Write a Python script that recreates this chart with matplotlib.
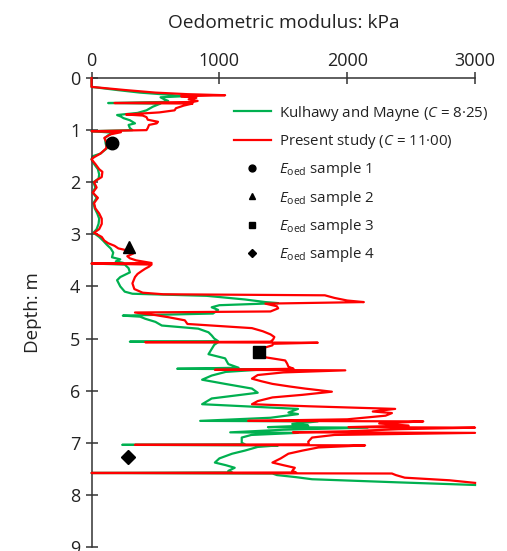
import matplotlib
matplotlib.use('Agg')
import matplotlib.pyplot as plt
from matplotlib.lines import Line2D

plt.rcParams['font.family'] = ['Open Sans', 'DejaVu Sans']
plt.rcParams['mathtext.fontset'] = 'custom'
plt.rcParams['mathtext.rm'] = 'Open Sans'
plt.rcParams['mathtext.it'] = 'Open Sans:italic'

# red curve: present study (C = 11.00)
red_depth = [0.00, 0.17, 0.23, 0.28, 0.31, 0.33, 0.35, 0.38, 0.41, 0.44, 0.46, 0.48, 0.49,
             0.53, 0.58, 0.62, 0.66, 0.70, 0.72, 0.75, 0.80, 0.84, 0.87, 0.90, 0.96, 1.00,
             1.02, 1.04, 1.08, 1.15, 1.25, 1.35, 1.45, 1.52, 1.56, 1.65, 1.75, 1.80, 1.90,
             1.96, 2.00, 2.10, 2.20, 2.30, 2.40, 2.50, 2.60, 2.70, 2.80, 2.90, 2.97, 3.05,
             3.12, 3.17, 3.22, 3.27, 3.32, 3.37, 3.42, 3.46, 3.50, 3.55, 3.56, 3.58, 3.62,
             3.66, 3.70, 3.76, 3.82, 3.94, 4.05, 4.12, 4.15, 4.17, 4.22, 4.27, 4.30, 4.33,
             4.38, 4.42, 4.48, 4.50, 4.55, 4.59, 4.65, 4.72, 4.76, 4.80, 4.86, 4.92, 4.97,
             5.02, 5.06, 5.07, 5.08, 5.10, 5.13, 5.17, 5.22, 5.30, 5.36, 5.42, 5.48, 5.54,
             5.58, 5.60, 5.61, 5.65, 5.70, 5.77, 5.82, 5.87, 5.92, 5.96, 6.02, 6.08, 6.13,
             6.20, 6.26, 6.30, 6.35, 6.40, 6.43, 6.48, 6.55, 6.58, 6.59, 6.63, 6.67, 6.70,
             6.71, 6.74, 6.78, 6.80, 6.81, 6.85, 6.90, 6.98, 7.03, 7.04, 7.05, 7.09, 7.15,
             7.21, 7.30, 7.38, 7.43, 7.48, 7.54, 7.57, 7.58, 7.59, 7.62, 7.67, 7.72, 7.77]
red_kpa = [0, 0, 260, 500, 750, 1045, 700, 820, 760, 830, 790, 180, 790,
           720, 660, 650, 530, 270, 400, 430, 440, 520, 510, 450, 440, 430,
           0, 230, 150, 100, 120, 115, 70, 20, 0, 30, 60, 85, 80,
           40, 20, 40, 10, 50, 20, 30, 60, 80, 80, 60, 20, 80,
           100, 130, 180, 210, 300, 325, 280, 300, 350, 470, 0, 470, 450,
           420, 395, 360, 340, 320, 335, 400, 560, 1825, 1900, 2000, 2130, 1360,
           1450, 1460, 1400, 340, 500, 600, 730, 750, 1000, 1255, 1340, 1400, 1430,
           1420, 1400, 420, 1770, 1420, 1415, 1360, 1340, 1350, 1360, 1515, 1530, 1540,
           1580, 965, 1985, 1500, 1300, 1255, 1330, 1415, 1550, 1670, 1880, 1650, 1415,
           1300, 1255, 1700, 2375, 2200, 2350, 2300, 2000, 1225, 2595, 2250, 2480, 2010,
           3000, 2400, 2000, 1575, 3000, 1900, 1725, 1695, 1700, 340, 2140, 1775, 1650,
           1540, 1480, 1415, 1500, 1590, 1570, 1600, 0, 2350, 2380, 2450, 2800, 3000]

# green curve: Kulhawy and Mayne (C = 8.25)
green_depth = [0.00, 0.17, 0.23, 0.28, 0.32, 0.35, 0.37, 0.41, 0.44, 0.46, 0.48, 0.49, 0.55,
               0.62, 0.67, 0.71, 0.74, 0.77, 0.81, 0.87, 0.90, 0.96, 1.00, 1.02, 1.05, 1.10,
               1.15, 1.25, 1.35, 1.45, 1.50, 1.56, 1.65, 1.75, 1.85, 1.93, 2.00, 2.10, 2.20,
               2.30, 2.40, 2.50, 2.60, 2.70, 2.80, 2.90, 2.97, 3.05, 3.12, 3.20, 3.27, 3.35,
               3.44, 3.48, 3.52, 3.55, 3.56, 3.58, 3.65, 3.73, 3.82, 3.88, 4.00, 4.10, 4.14,
               4.18, 4.25, 4.30, 4.32, 4.36, 4.40, 4.45, 4.52, 4.56, 4.58, 4.62, 4.68, 4.75,
               4.81, 4.88, 4.94, 5.00, 5.05, 5.06, 5.07, 5.12, 5.20, 5.30, 5.38, 5.49, 5.56,
               5.58, 5.59, 5.64, 5.71, 5.79, 5.87, 5.96, 6.04, 6.10, 6.15, 6.26, 6.30, 6.35,
               6.42, 6.45, 6.52, 6.58, 6.59, 6.64, 6.67, 6.70, 6.71, 6.75, 6.80, 6.81, 6.85,
               6.90, 7.00, 7.03, 7.04, 7.05, 7.08, 7.15, 7.21, 7.30, 7.38, 7.43, 7.48, 7.54,
               7.57, 7.58, 7.59, 7.62, 7.66, 7.70, 7.76, 7.81]
green_kpa = [0, 0, 200, 380, 600, 715, 540, 570, 600, 560, 130, 540, 480,
             430, 360, 200, 230, 250, 300, 340, 290, 300, 320, 0, 170, 130,
             105, 110, 120, 70, 10, 0, 20, 50, 60, 55, 15, 30, 10,
             40, 15, 25, 45, 60, 55, 40, 15, 60, 90, 120, 150, 170,
             160, 225, 190, 250, 0, 260, 290, 300, 225, 200, 225, 260, 320,
             900, 1200, 1360, 1460, 1000, 940, 990, 950, 245, 380, 420, 500, 550,
             835, 915, 940, 960, 990, 300, 990, 960, 940, 915, 1045, 1070, 1150,
             670, 1360, 1050, 940, 865, 1045, 1255, 1300, 1100, 940, 865, 1200, 1615,
             1540, 1615, 1400, 850, 1770, 1570, 1695, 1380, 2160, 1500, 1085, 1615, 1250,
             1175, 1175, 1200, 240, 1460, 1300, 1200, 1100, 1000, 965, 1050, 1120, 1070,
             1100, 0, 1415, 1450, 1600, 1725, 2400, 3000]

# oedometer samples
sample_kpa = [160, 290, 1310, 288]
sample_depth = [1.25, 3.25, 5.25, 7.27]
sample_markers = ['o', '^', 's', 'D']
sample_sizes = [9, 9, 8.5, 7.5]

fig = plt.figure(figsize=(5.07, 5.51), dpi=100)
ax = fig.add_axes([0.1805, 0.0073, 0.7565, 0.8511])

ax.plot(green_kpa, green_depth, color='#00b050', lw=1.6, clip_on=False, zorder=2)
ax.plot(red_kpa, red_depth, color='#ff0000', lw=1.6, clip_on=False, zorder=3)
for xk, yd, m, ms in zip(sample_kpa, sample_depth, sample_markers, sample_sizes):
    ax.plot([xk], [yd], marker=m, color='black', ms=ms, ls='none', zorder=5)

ax.set_xlim(0, 3000)
ax.set_ylim(9, 0)
ax.set_xticks([0, 1000, 2000, 3000])
ax.set_yticks(range(10))
ax.xaxis.tick_top()
ax.xaxis.set_label_position('top')
ax.set_xlabel('Oedometric modulus: kPa', fontsize=13.8, labelpad=17, color='#222222')
ax.set_ylabel('Depth: m', fontsize=13.5, labelpad=20, color='#222222')
for s in ['right', 'bottom']:
    ax.spines[s].set_visible(False)
for s in ['left', 'top']:
    ax.spines[s].set_color('#333333')
    ax.spines[s].set_linewidth(1.1)
ax.tick_params(direction='inout', length=8, width=1.1, color='#333333',
               labelsize=13, labelcolor='#222222')
ax.tick_params(axis='x', pad=2)
ax.tick_params(axis='y', pad=4)

handles = [
    Line2D([], [], color='#00b050', lw=1.6),
    Line2D([], [], color='#ff0000', lw=1.6),
]
labels = ['Kulhawy and Mayne ($C$ = 8·25)', 'Present study ($C$ = 11·00)']
for i, m in enumerate(sample_markers):
    handles.append(Line2D([], [], marker=m, color='black', ls='none', ms=sample_sizes[i] * 0.55))
    labels.append('$E_{\\mathrm{oed}}$ sample %d' % (i + 1))

ax.legend(handles, labels, loc='upper left', bbox_to_anchor=(0.355, 0.958), frameon=False,
          fontsize=10.8, handlelength=2.5, handletextpad=0.5, labelspacing=0.62,
          borderaxespad=0, labelcolor='#222222')

fig.savefig('out.png', dpi=100)
